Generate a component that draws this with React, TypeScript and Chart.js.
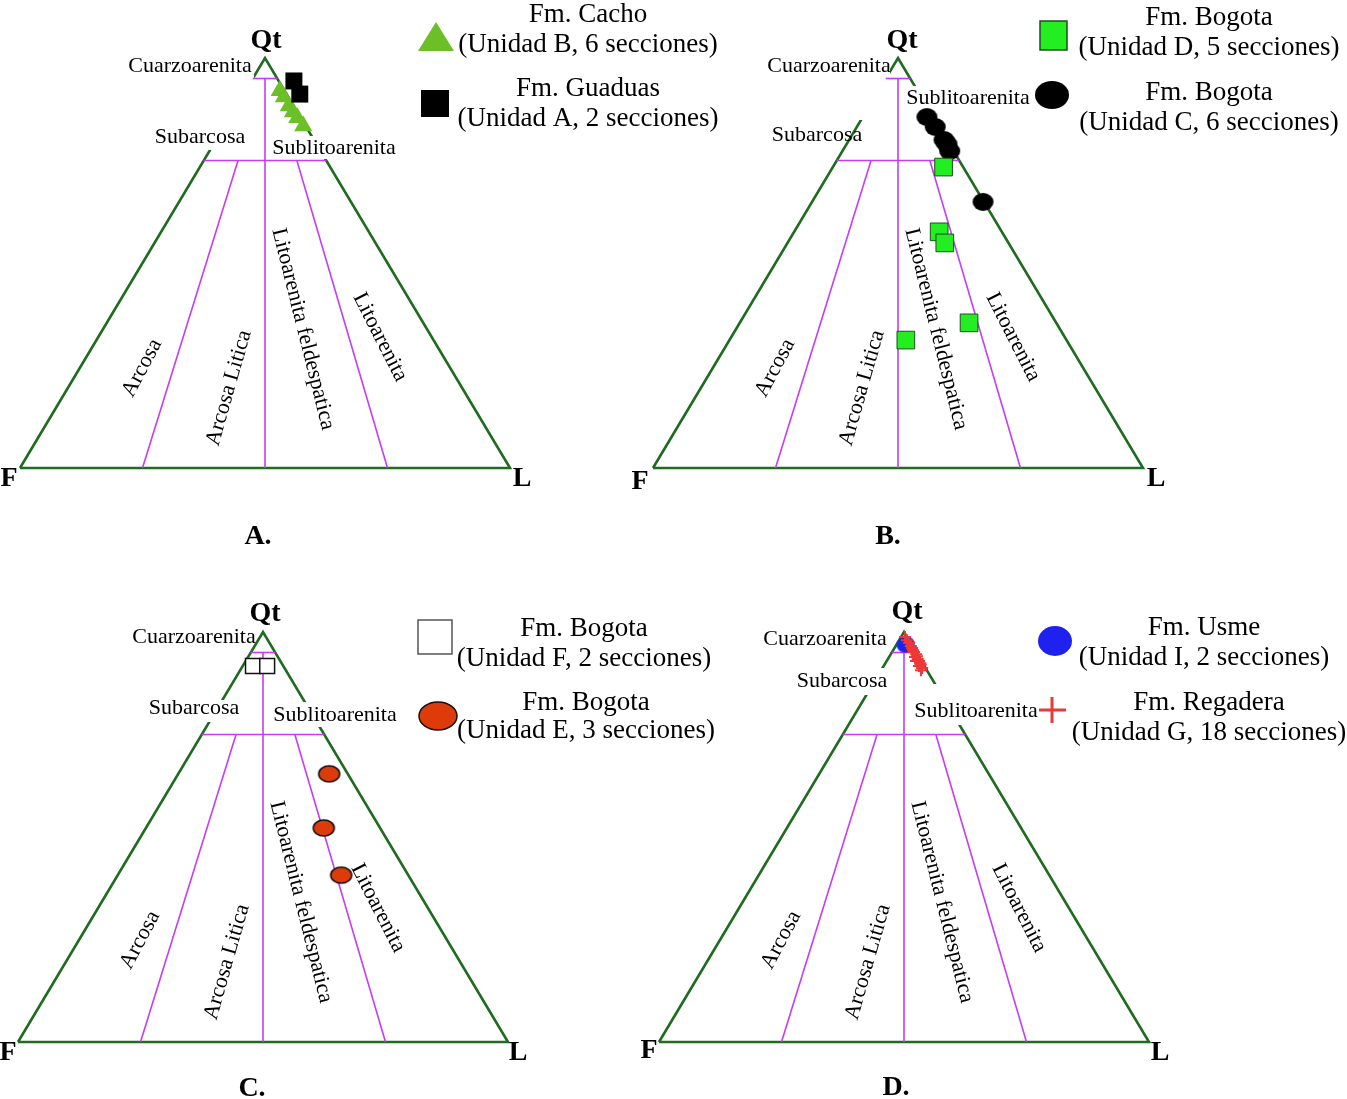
import React, { useEffect, useRef } from "react";
import { Chart, registerables } from "chart.js";
Chart.register(...registerables);

// ---------- Data: modal composition (Qt, F, L in %) ----------
const cachoUnidadB = [
  [92.0, 1.0, 7.0], [90.5, 0.9, 8.6], [88.3, 1.0, 10.7],
  [86.8, 0.9, 12.3], [85.4, 0.7, 13.9], [83.4, 0.5, 16.1],
];
const guaduasUnidadA = [
  [94.4, -3.1, 8.7], [91.2, -2.7, 11.5],
];
const bogotaUnidadD = [
  [73.4, 4.0, 22.6], [57.6, 12.8, 29.6], [54.9, 13.0, 32.1],
  [35.4, 17.8, 46.8], [31.2, 32.8, 36.0],
];
const bogotaUnidadC = [
  [85.6, 1.3, 13.1], [83.2, 0.8, 16.0], [80.0, 0.6, 19.4],
  [79.0, 0.5, 20.5], [77.3, 0.8, 21.9], [64.9, 0.2, 34.9],
];
const bogotaUnidadF = [
  [91.7, 6.2, 2.1], [91.7, 3.3, 5.0],
];
const bogotaUnidadE = [
  [65.4, 3.8, 30.8], [52.2, 11.5, 36.3], [40.7, 13.7, 45.6],
];
const usmeUnidadI = [
  [97.1, 1.0, 1.9], [96.8, 1.4, 1.8],
];
const regaderaUnidadG = [
  [98.8, 0.4, 0.8], [98.0, 0.4, 1.6], [97.3, 0.3, 2.4], [96.6, 0.3, 3.1],
  [96.1, 0.3, 3.6], [95.6, 0.4, 4.0], [95.1, 0.4, 4.5], [94.6, 0.2, 5.2],
  [93.9, 0.8, 5.3], [94.1, 0.3, 5.6], [93.4, 0.5, 6.1], [92.9, 0.5, 6.6],
  [92.4, 0.5, 7.1], [92.0, 0.6, 7.4], [91.2, 0.7, 8.1], [90.7, 1.2, 8.1],
  [91.7, 1.1, 7.2], [92.9, 1.1, 6.0],
];

// Folk classification field boundaries (Qt, F, L)
const folkBoundaries = [
  [[95, 5, 0], [95, 0, 5]],
  [[75, 25, 0], [75, 0, 25]],
  [[0, 50, 50], [95, 2.5, 2.5]],
  [[0, 75, 25], [75, 18, 7]],
  [[0, 25, 75], [75, 6, 19]],
];

const fieldNames = ["Arcosa", "Arcosa Litica", "Litoarenita feldespatica", "Litoarenita"];
const legendA = ["Fm. Cacho", "(Unidad B, 6 secciones)", "Fm. Guaduas", "(Unidad A, 2 secciones)"];
const legendB = ["Fm. Bogota", "(Unidad D, 5 secciones)", "Fm. Bogota", "(Unidad C, 6 secciones)"];
const legendC = ["Fm. Bogota", "(Unidad F, 2 secciones)", "Fm. Bogota", "(Unidad E, 3 secciones)"];
const legendD = ["Fm. Usme", "(Unidad I, 2 secciones)", "Fm. Regadera", "(Unidad G, 18 secciones)"];

// ---------- Layout ----------
const W = 1347;
const H = 1099;
const GREEN = "#1f6b1f";
const MAGENTA = "#c63cf2";
const SERIF = '"Liberation Serif", "Times New Roman", serif';

type Panel = { F: number[]; L: number[]; Q: number[]; dx: number; dy: number; letter: string };
const panels: Panel[] = [
  { F: [20, 468], L: [510, 468], Q: [265, 58], dx: 0, dy: 0, letter: "A." },
  { F: [653, 468], L: [1143, 468], Q: [898, 58], dx: 633, dy: 0, letter: "B." },
  { F: [18, 1042], L: [508, 1042], Q: [263, 632], dx: -2, dy: 574, letter: "C." },
  { F: [659, 1042], L: [1149, 1042], Q: [904, 632], dx: 639, dy: 574, letter: "D." },
];

function tern(p: Panel, v: number[]) {
  const [q, f, l] = v;
  const s = q + f + l;
  return {
    x: (q * p.Q[0] + f * p.F[0] + l * p.L[0]) / s,
    y: (q * p.Q[1] + f * p.F[1] + l * p.L[1]) / s,
  };
}

function ellipseImg(w: number, h: number, fill: string, stroke: string | null, lw: number) {
  const c = document.createElement("canvas");
  const pad = Math.ceil(lw) + 1;
  c.width = w + pad * 2;
  c.height = h + pad * 2;
  const g = c.getContext("2d")!;
  g.beginPath();
  g.ellipse(c.width / 2, c.height / 2, w / 2, h / 2, 0, 0, Math.PI * 2);
  g.fillStyle = fill;
  g.fill();
  if (stroke) {
    g.lineWidth = lw;
    g.strokeStyle = stroke;
    g.stroke();
  }
  return c;
}

// labels: [text, x, y, box?]
const topLabels: any[][] = [
  [
    ["Cuarzoarenita", 190, 66, [126, 56, 254, 118]],
    ["Subarcosa", 200, 137, [150, 118, 250, 150]],
    ["Sublitoarenita", 334, 148, [270, 136, 398, 159]],
  ],
  [
    ["Cuarzoarenita", 829, 66, [765, 56, 890, 120]],
    ["Sublitoarenita", 968, 98, [904, 86, 1034, 110]],
    ["Subarcosa", 817, 135, null],
  ],
  [
    ["Cuarzoarenita", 194, 637, null],
    ["Subarcosa", 194, 708, [147, 700, 241, 722]],
    ["Sublitoarenita", 335, 715, [271, 702, 399, 727]],
  ],
  [
    ["Cuarzoarenita", 825, 639, null],
    ["Subarcosa", 842, 681, [795, 668, 889, 695]],
    ["Sublitoarenita", 976, 711, [912, 684, 1040, 725]],
  ],
];

export default function App() {
  const ref = useRef<HTMLCanvasElement | null>(null);

  useEffect(() => {
    const canvas = ref.current;
    if (!canvas) return;

    const blackDot = ellipseImg(21, 18, "#000000", null, 0);
    const orangeDot = ellipseImg(21, 16, "#de3b0b", "#111111", 1.5);
    const blueDot = ellipseImg(17, 15, "#1f22ee", null, 0);

    const pts = (p: Panel, arr: number[][]) => arr.map((v) => tern(p, v));
    const [pA, pB, pC, pD] = panels;

    const pointSets: any[] = [
      { data: pts(pA, guaduasUnidadA), pointStyle: "rect", pointRadius: 12, backgroundColor: "#000", borderWidth: 0 },
      { data: pts(pA, cachoUnidadB), pointStyle: "triangle", pointRadius: 10.5, backgroundColor: "#6cbf26", borderWidth: 0 },
      { data: pts(pB, bogotaUnidadD), pointStyle: "rect", pointRadius: 12.5, backgroundColor: "#22ee22", borderColor: "#1d4e1d", borderWidth: 1 },
      { data: pts(pB, bogotaUnidadC), pointStyle: blackDot, pointRadius: 10 },
      { data: pts(pC, bogotaUnidadF), pointStyle: "rect", pointRadius: 10.5, backgroundColor: "#ffffff", borderColor: "#111", borderWidth: 1.5 },
      { data: pts(pC, bogotaUnidadE), pointStyle: orangeDot, pointRadius: 9 },
      { data: pts(pD, regaderaUnidadG), pointStyle: "cross", pointRadius: 6, borderColor: "#ee3838", borderWidth: 2 },
      { data: pts(pD, usmeUnidadI), pointStyle: blueDot, pointRadius: 8 },
    ].map((d) => ({ ...d, showLine: false, pointHoverRadius: d.pointRadius, clip: false }));

    const magentaSets: any[] = [];
    panels.forEach((p) => {
      folkBoundaries.forEach((seg) => {
        magentaSets.push({
          data: seg.map((v) => tern(p, v)),
          showLine: true,
          pointRadius: 0,
          borderColor: MAGENTA,
          borderWidth: 1.6,
          fill: false,
        });
      });
    });

    const frameSets: any[] = panels.map((p, i) => ({
      data: [tern(p, [0, 100, 0]), tern(p, [0, 0, 100]), tern(p, [100, 0, 0]), tern(p, [0, 100, 0])],
      showLine: true,
      pointRadius: 0,
      borderColor: GREEN,
      borderWidth: 2.6,
      borderJoinStyle: "miter",
      fill: false,
      boxesAfter: i === 0,
    }));

    const overlay = {
      id: "overlay",
      afterDatasetDraw(chart: any, args: any) {
        const ds = chart.data.datasets[args.index];
        if (!ds || !ds.boxesAfter) return;
        const ctx = chart.ctx;
        const sx = chart.scales.x;
        const sy = chart.scales.y;
        ctx.save();
        ctx.fillStyle = "#ffffff";
        topLabels.forEach((list) =>
          list.forEach((lab) => {
            const b = lab[3];
            if (!b) return;
            const x0 = sx.getPixelForValue(b[0]);
            const y0 = sy.getPixelForValue(b[1]);
            const x1 = sx.getPixelForValue(b[2]);
            const y1 = sy.getPixelForValue(b[3]);
            ctx.fillRect(x0, y0, x1 - x0, y1 - y0);
          })
        );
        ctx.restore();
      },
      afterDatasetsDraw(chart: any) {
        const ctx = chart.ctx;
        const sx = chart.scales.x;
        const sy = chart.scales.y;
        const X = (v: number) => sx.getPixelForValue(v);
        const Y = (v: number) => sy.getPixelForValue(v);
        ctx.save();
        ctx.fillStyle = "#000";
        ctx.textAlign = "center";
        ctx.textBaseline = "middle";

        const text = (t: string, x: number, y: number, font: string, rot = 0) => {
          ctx.save();
          ctx.translate(X(x), Y(y));
          if (rot) ctx.rotate((rot * Math.PI) / 180);
          ctx.font = font;
          ctx.fillText(t, 0, 0);
          ctx.restore();
        };
        const bold = `bold 28px ${SERIF}`;
        const reg = `22px ${SERIF}`;
        const leg = `27px ${SERIF}`;

        const vtx = [
          { qt: [266, 41], f: [9, 479], l: [522, 479], let: [258, 537] },
          { qt: [902, 41], f: [640, 482], l: [1156, 479], let: [888, 537] },
          { qt: [265, 614], f: [8, 1053], l: [518, 1053], let: [252, 1089] },
          { qt: [907, 612], f: [649, 1051], l: [1160, 1053], let: [896, 1088] },
        ];
        const rp = [
          [142, 368, -62],
          [229, 388, -74],
          [303, 329, 76],
          [380, 337, 63],
        ];
        panels.forEach((p, i) => {
          const v = vtx[i];
          text("Qt", v.qt[0], v.qt[1], bold);
          text("F", v.f[0], v.f[1], bold);
          text("L", v.l[0], v.l[1], bold);
          text(p.letter, v.let[0], v.let[1], bold);
          topLabels[i].forEach((lab) => text(lab[0], lab[1], lab[2], reg));
          fieldNames.forEach((n, k) => {
            const yOff = i >= 2 ? [572, 574, 573, 571][k] : 0;
            text(n, rp[k][0] + p.dx, rp[k][1] + yOff, reg, rp[k][2]);
          });
        });

        const legends = [
          { t: legendA, c: [588, 588], y: [15, 45, 89, 119] },
          { t: legendB, c: [1209, 1209], y: [18, 48, 93, 123] },
          { t: legendC, c: [584, 586], y: [629, 659, 703, 731] },
          { t: legendD, c: [1204, 1209], y: [628, 658, 703, 733] },
        ];
        legends.forEach((L) => {
          text(L.t[0], L.c[0], L.y[0], leg);
          text(L.t[1], L.c[0], L.y[1], leg);
          text(L.t[2], L.c[1], L.y[2], leg);
          text(L.t[3], L.c[1], L.y[3], leg);
        });

        // legend keys
        ctx.beginPath();
        ctx.moveTo(X(418), Y(51));
        ctx.lineTo(X(454), Y(51));
        ctx.lineTo(X(436), Y(22));
        ctx.closePath();
        ctx.fillStyle = "#6cbf26";
        ctx.fill();
        ctx.fillStyle = "#000";
        ctx.fillRect(X(421), Y(90), 28, 27);
        ctx.fillStyle = "#22ee22";
        ctx.fillRect(X(1040), Y(21), 27, 29);
        ctx.strokeStyle = "#1d4e1d";
        ctx.lineWidth = 1.5;
        ctx.strokeRect(X(1040), Y(21), 27, 29);
        ctx.beginPath();
        ctx.ellipse(X(1052), Y(95), 17, 14, 0, 0, Math.PI * 2);
        ctx.fillStyle = "#000";
        ctx.fill();
        ctx.fillStyle = "#fff";
        ctx.fillRect(X(418), Y(620), 34, 34);
        ctx.strokeStyle = "#555";
        ctx.lineWidth = 1.5;
        ctx.strokeRect(X(418), Y(620), 34, 34);
        ctx.beginPath();
        ctx.ellipse(X(438), Y(716), 19, 14, 0, 0, Math.PI * 2);
        ctx.fillStyle = "#de3b0b";
        ctx.fill();
        ctx.strokeStyle = "#111";
        ctx.lineWidth = 1.5;
        ctx.stroke();
        ctx.beginPath();
        ctx.ellipse(X(1055), Y(641), 17, 15, 0, 0, Math.PI * 2);
        ctx.fillStyle = "#1f22ee";
        ctx.fill();
        ctx.beginPath();
        ctx.moveTo(X(1039), Y(710));
        ctx.lineTo(X(1066), Y(710));
        ctx.moveTo(X(1052), Y(697));
        ctx.lineTo(X(1052), Y(723));
        ctx.strokeStyle = "#ee3838";
        ctx.lineWidth = 3;
        ctx.stroke();

        ctx.restore();
      },
    };

    const chart = new Chart(canvas, {
      type: "scatter",
      data: { datasets: [...pointSets, ...magentaSets, ...frameSets] },
      options: {
        animation: false,
        responsive: false,
        events: [],
        layout: { padding: 0, autoPadding: false },
        plugins: { legend: { display: false }, tooltip: { enabled: false } },
        scales: {
          x: { type: "linear", min: 0, max: W, display: false },
          y: { type: "linear", min: 0, max: H, reverse: true, display: false },
        },
      },
      plugins: [overlay as any],
    } as any);

    return () => chart.destroy();
  }, []);

  return (
    <div style={{ position: "absolute", left: 0, top: 0, width: W, height: H, background: "#fff" }}>
      <canvas ref={ref} width={W} height={H} style={{ width: W, height: H, display: "block" }} />
    </div>
  );
}
